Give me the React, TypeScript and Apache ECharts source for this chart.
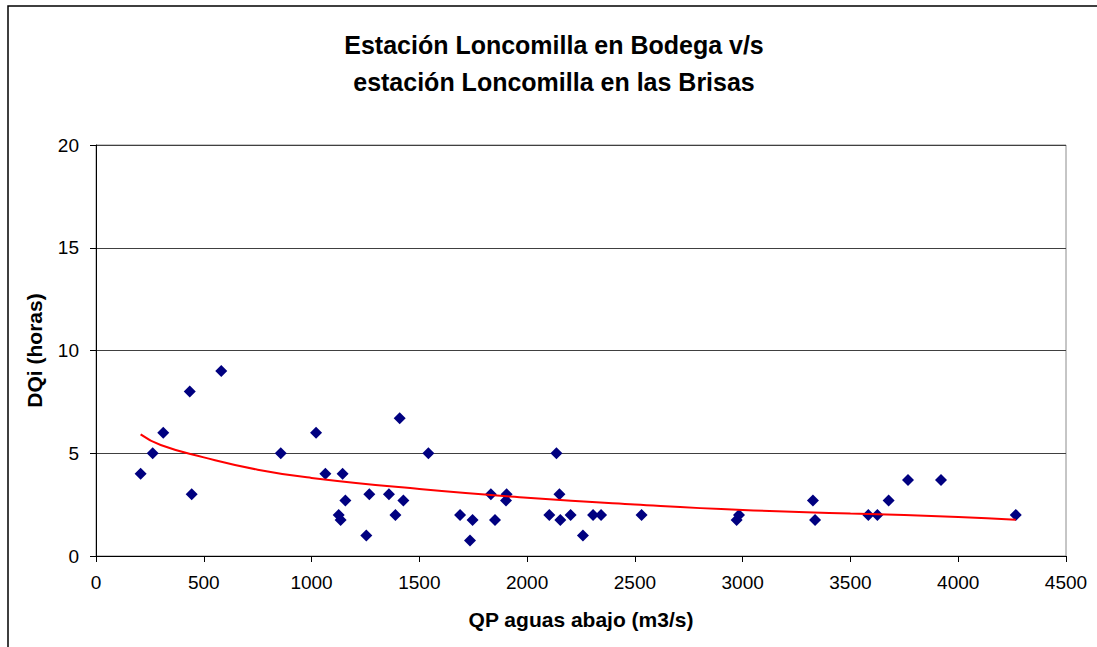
import React, { useEffect, useRef } from "react";
import * as echarts from "echarts";

const titleLines = ["Estación Loncomilla en Bodega v/s", "estación Loncomilla en las Brisas"];
const xAxisName = "QP aguas abajo (m3/s)";
const yAxisName = "DQi (horas)";

// Observed points: QP (m3/s) and DQi (horas)
const qpValues = [
  207, 263, 312, 435, 444, 581, 857, 1021, 1064, 1144, 1157, 1126, 1135, 1268, 1254,
  1359, 1389, 1426, 1409, 1542, 1689, 1747, 1735, 1832, 1851, 1905, 1902, 2103, 2136,
  2150, 2154, 2202, 2259, 2306, 2343, 2531, 2972, 2983, 3326, 3336, 3583, 3625, 3677,
  3767, 3920, 4267,
];
const dqiValues = [
  4, 5, 6, 8, 3, 9, 5, 6, 4, 4, 2.7, 2, 1.75, 3, 1,
  3, 2, 2.7, 6.7, 5, 2, 1.75, 0.75, 3, 1.75, 3, 2.7, 2, 5,
  3, 1.75, 2, 1, 2, 2, 2, 1.75, 2, 2.7, 1.75, 2, 2, 2.7,
  3.7, 3.7, 2,
];

// Trend line (logarithmic fit as drawn in the reference)
const trendX = [207, 300, 500, 750, 1000, 1500, 2000, 2500, 3000, 3500, 4000, 4267];
const trendY = [5.92, 5.4, 4.8, 4.2, 3.8, 3.26, 2.84, 2.51, 2.24, 2.07, 1.9, 1.77];

const FONT = "'Liberation Sans', Arial, sans-serif";

export default function App() {
  const ref = useRef<HTMLDivElement>(null);

  useEffect(() => {
    if (!ref.current) return;
    const chart = echarts.init(ref.current, null, { renderer: "svg" });
    const scatterData = qpValues.map((x, i) => [x, dqiValues[i]]);
    const trendData = trendX.map((x, i) => [x, trendY[i]]);

    chart.setOption({
      animation: false,
      backgroundColor: "#ffffff",
      textStyle: { fontFamily: FONT },
      title: {
        text: titleLines.join("\n"),
        left: 549,
        textAlign: "center",
        top: 21,
        textStyle: {
          fontFamily: FONT,
          fontSize: 25,
          fontWeight: "bold",
          color: "#000",
          lineHeight: 37,
        },
      },
      graphic: [
        {
          type: "rect",
          shape: { x: 8, y: 6, width: 1200, height: 800 },
          style: { fill: "none", stroke: "#000", lineWidth: 1.5 },
          silent: true,
          z: 100,
        },
      ],
      grid: {
        left: 96,
        top: 145,
        right: 31,
        bottom: 91,
        show: true,
        borderColor: "#8c8c8c",
        borderWidth: 1,
        backgroundColor: "#ffffff",
      },
      xAxis: {
        type: "value",
        min: 0,
        max: 4500,
        interval: 500,
        name: xAxisName,
        nameLocation: "middle",
        nameGap: 53,
        nameTextStyle: { fontFamily: FONT, fontSize: 21, fontWeight: "bold", color: "#000" },
        axisLine: { show: true, onZero: false, lineStyle: { color: "#000", width: 1 } },
        axisTick: { show: true, inside: false, length: 6, lineStyle: { color: "#000" } },
        axisLabel: {
          fontFamily: FONT,
          fontSize: 19,
          color: "#000",
          margin: 17,
          formatter: (v: number) => String(v),
        },
        splitLine: { show: false },
      },
      yAxis: {
        type: "value",
        min: 0,
        max: 20,
        interval: 5,
        name: yAxisName,
        nameLocation: "middle",
        nameRotate: 90,
        nameGap: 51,
        nameTextStyle: { fontFamily: FONT, fontSize: 21, fontWeight: "bold", color: "#000" },
        axisLine: { show: true, onZero: false, lineStyle: { color: "#000", width: 1 } },
        axisTick: { show: true, inside: false, length: 6, lineStyle: { color: "#000" } },
        axisLabel: {
          fontFamily: FONT,
          fontSize: 19,
          color: "#000",
          margin: 17,
          formatter: (v: number) => String(v),
        },
        splitLine: { show: true, lineStyle: { color: "#404040", width: 1 } },
      },
      series: [
        {
          type: "scatter",
          data: scatterData,
          symbol: "diamond",
          symbolSize: 12,
          itemStyle: { color: "#000080", opacity: 1 },
          z: 3,
        },
        {
          type: "line",
          data: trendData,
          smooth: true,
          showSymbol: false,
          lineStyle: { color: "#ff0000", width: 2 },
          z: 4,
        },
      ],
    });
    return () => chart.dispose();
  }, []);

  return (
    <div
      ref={ref}
      style={{ position: "fixed", left: 0, top: 0, width: 1097, height: 647 }}
    />
  );
}
